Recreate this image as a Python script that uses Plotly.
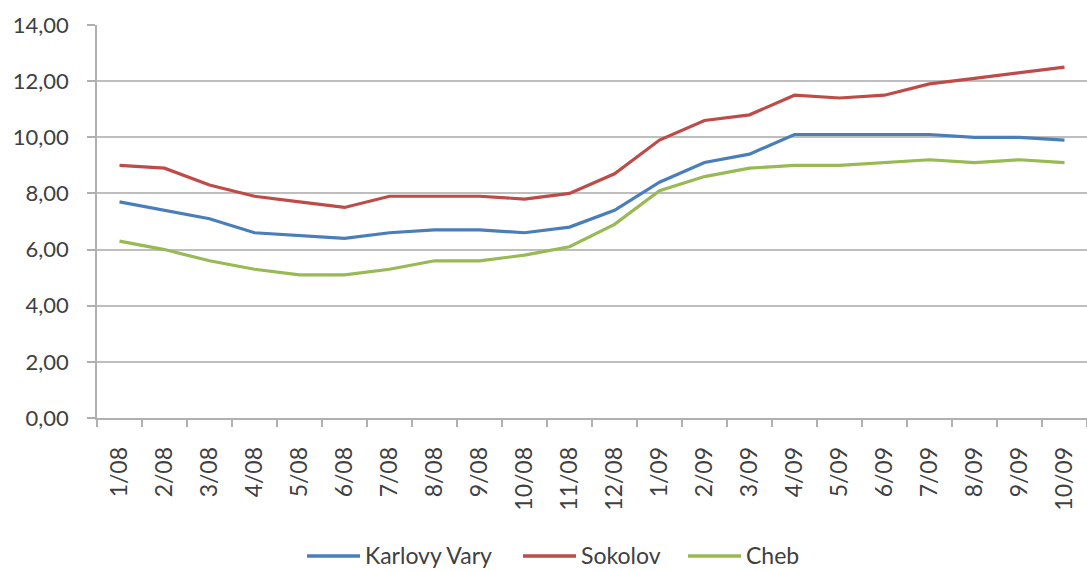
import plotly.graph_objects as go

# Monthly periods 2008-2009
months = ["1/08", "2/08", "3/08", "4/08", "5/08", "6/08", "7/08", "8/08", "9/08",
          "10/08", "11/08", "12/08", "1/09", "2/09", "3/09", "4/09", "5/09", "6/09",
          "7/09", "8/09", "9/09", "10/09"]

karlovy_vary = [7.7, 7.4, 7.1, 6.6, 6.5, 6.4, 6.6, 6.7, 6.7, 6.6, 6.8, 7.4,
                8.4, 9.1, 9.4, 10.1, 10.1, 10.1, 10.1, 10.0, 10.0, 9.9]
sokolov = [9.0, 8.9, 8.3, 7.9, 7.7, 7.5, 7.9, 7.9, 7.9, 7.8, 8.0, 8.7,
           9.9, 10.6, 10.8, 11.5, 11.4, 11.5, 11.9, 12.1, 12.3, 12.5]
cheb = [6.3, 6.0, 5.6, 5.3, 5.1, 5.1, 5.3, 5.6, 5.6, 5.8, 6.1, 6.9,
        8.1, 8.6, 8.9, 9.0, 9.0, 9.1, 9.2, 9.1, 9.2, 9.1]

y_ticks = [0, 2, 4, 6, 8, 10, 12, 14]
y_tick_labels = ["0,00", "2,00", "4,00", "6,00", "8,00", "10,00", "12,00", "14,00"]

series_names = ["Karlovy Vary", "Sokolov", "Cheb"]
series_values = [karlovy_vary, sokolov, cheb]
series_colors = ["#4A7EBB", "#BE4B48", "#98B954"]

W, H = 1087, 571
M_L, M_R, M_T, M_B = 97, 0, 25, 153
PLOT_W = W - M_L - M_R
PLOT_H = H - M_T - M_B


def px_to_paper_x(px):
    return (px - M_L) / PLOT_W


def px_to_paper_y(py):
    return (H - M_B - py) / PLOT_H


fig = go.Figure()
for name, values, color in zip(series_names, series_values, series_colors):
    fig.add_trace(go.Scatter(
        x=months, y=values, name=name, mode="lines",
        line=dict(color=color, width=3.2), showlegend=False,
    ))

# Legend row below the axis: long line swatch followed by the series name
legend_starts = [307, 523, 688]
swatch_len = 53
legend_y = 556
for start, name, color in zip(legend_starts, series_names, series_colors):
    fig.add_shape(
        type="line", xref="paper", yref="paper",
        x0=px_to_paper_x(start), x1=px_to_paper_x(start + swatch_len),
        y0=px_to_paper_y(legend_y), y1=px_to_paper_y(legend_y),
        line=dict(color=color, width=3.5),
    )
    fig.add_annotation(
        xref="paper", yref="paper",
        x=px_to_paper_x(start + swatch_len + 3), y=px_to_paper_y(legend_y - 1),
        xanchor="left", yanchor="middle", showarrow=False,
        text=name, font=dict(size=23, color="#404040"),
    )

font_family = "Lato, 'Open Sans', sans-serif"
fig.update_layout(
    width=W, height=H,
    margin=dict(l=M_L, r=M_R, t=M_T, b=M_B, autoexpand=False),
    paper_bgcolor="white", plot_bgcolor="white",
    font=dict(family=font_family, color="#404040"),
    showlegend=False,
    xaxis=dict(
        type="category", range=[-0.5, 21.5], tickson="boundaries",
        automargin=False,
        showgrid=False, showline=True, linecolor="#B0B0B0", linewidth=1.5,
        ticks="outside", ticklen=7, tickcolor="#B0B0B0", tickwidth=1.5,
        tickangle=-90, tickfont=dict(size=23, color="#404040"),
        ticklabelstandoff=18,
    ),
    yaxis=dict(
        range=[0, 14], tickvals=y_ticks, ticktext=y_tick_labels,
        automargin=False,
        showgrid=True, gridcolor="#BEBEBE", gridwidth=1.5,
        showline=True, linecolor="#B0B0B0", linewidth=1.5,
        ticks="outside", ticklen=8, tickcolor="#B0B0B0", tickwidth=1.5,
        tickfont=dict(size=22, color="#404040"), zeroline=False,
        ticklabelstandoff=14,
    ),
)

fig.write_html("out.html")
